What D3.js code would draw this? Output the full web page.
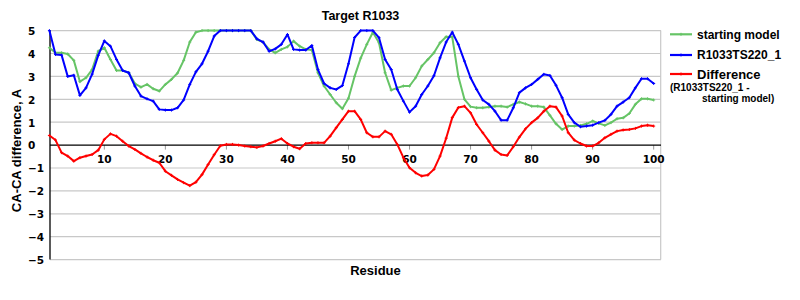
<!DOCTYPE html>
<html><head><meta charset="utf-8">
<script src="https://cdn.jsdelivr.net/npm/d3@7"></script>
<style>
html,body{margin:0;padding:0;background:#fff;}
svg{display:block;}
</style></head>
<body>
<svg id="chart" width="800" height="300"></svg>
<script>
const residues = d3.range(1, 101);
const startingModel = [4.25,4.03,4.03,3.98,3.70,2.77,2.94,3.30,4.10,4.25,
  3.74,3.26,3.26,3.16,2.69,2.53,2.65,2.46,2.36,2.65,
  2.87,3.15,3.70,4.50,4.93,5.0,5.0,5.0,5.0,5.0,
  5.0,5.0,5.0,5.0,4.61,4.50,4.18,4.03,4.18,4.29,
  4.54,4.32,4.18,4.15,3.16,2.58,2.21,1.85,1.59,2.05,
  3.00,3.80,4.40,4.93,4.47,3.16,2.40,2.50,2.58,2.58,
  2.94,3.45,3.74,4.03,4.47,4.73,4.72,3.00,2.00,1.68,
  1.63,1.63,1.66,1.70,1.70,1.66,1.78,1.88,1.80,1.70,
  1.70,1.66,1.30,0.93,0.68,0.83,0.83,0.86,0.93,1.05,
  0.95,0.86,0.98,1.15,1.19,1.38,1.78,2.02,2.02,1.97];
const targetModel = [5.0,3.96,3.93,3.00,3.05,2.17,2.50,3.10,3.92,4.55,
  4.32,3.74,3.26,3.16,2.58,2.14,2.02,1.92,1.56,1.53,
  1.53,1.63,1.97,2.65,3.20,3.55,4.10,4.76,5.0,5.0,
  5.0,5.0,5.0,5.0,4.64,4.50,4.10,4.20,4.40,4.83,
  4.18,4.15,4.15,4.35,3.30,2.69,2.50,2.43,2.60,3.55,
  4.70,5.0,5.0,5.0,4.69,3.74,3.30,2.43,1.92,1.44,
  1.70,2.21,2.58,3.03,3.81,4.50,4.93,4.40,3.67,2.94,
  2.43,1.97,1.78,1.48,1.09,1.09,1.63,2.29,2.50,2.65,
  2.87,3.09,3.04,2.61,2.07,1.34,0.98,0.80,0.83,0.87,
  0.98,1.08,1.34,1.70,1.88,2.07,2.50,2.90,2.90,2.69];
const difference = [0.42,0.22,-0.33,-0.48,-0.70,-0.55,-0.48,-0.41,-0.22,0.25,
  0.49,0.39,0.17,-0.04,-0.19,-0.36,-0.52,-0.66,-0.77,-1.14,
  -1.32,-1.50,-1.64,-1.77,-1.62,-1.29,-0.85,-0.42,-0.03,0.03,
  0.03,0.00,-0.04,-0.07,-0.10,-0.04,0.07,0.17,0.28,0.07,
  -0.07,-0.16,0.07,0.10,0.10,0.10,0.39,0.76,1.12,1.48,
  1.48,1.12,0.54,0.36,0.36,0.61,0.47,0.03,-0.55,-0.99,
  -1.21,-1.35,-1.31,-1.06,-0.48,0.30,1.20,1.64,1.70,1.41,
  0.90,0.54,0.17,-0.22,-0.41,-0.45,-0.07,0.35,0.71,0.98,
  1.19,1.48,1.70,1.66,1.27,0.54,0.22,0.07,-0.04,-0.04,
  0.10,0.32,0.47,0.61,0.66,0.68,0.73,0.83,0.87,0.83];
const xTicks = [10,20,30,40,50,60,70,80,90,100];
const yTicks = [5,4,3,2,1,0,-1,-2,-3,-4,-5];
const seriesNames = ["starting model", "R1033TS220_1", "Difference"];
const titleText = "Target R1033";
const xLabel = "Residue";
const yLabel = "CA-CA difference, A";

const colors = ["#66c466", "#0000ff", "#ff0000"];
const svg = d3.select("#chart");
const x = d3.scaleLinear().domain([1, 101.2]).range([49.4, 661]);
const y = d3.scaleLinear().domain([-5, 5]).range([259.6, 30.6]);

// gridlines
svg.append("g").selectAll("line").data(yTicks.filter(d => d !== 0)).join("line")
  .attr("x1", 50).attr("x2", 661)
  .attr("y1", d => y(d)).attr("y2", d => y(d))
  .attr("stroke", "#c8c8c8").attr("stroke-width", 1.2);
// right border
svg.append("line").attr("x1", 660.7).attr("x2", 660.7).attr("y1", y(5)).attr("y2", y(-5))
  .attr("stroke", "#c8c8c8").attr("stroke-width", 1.2);

// y tick labels
svg.append("g").selectAll("text").data(yTicks).join("text")
  .attr("x", 28).attr("y", d => y(d) + 4.3)
  .attr("font-family", "DejaVu Sans").attr("font-weight", "bold").attr("font-size", 10.5)
  .attr("fill", "#000")
  .text(d => d < 0 ? "\u2212" + Math.abs(d) : String(d));

// x tick marks + labels
svg.append("g").selectAll("line").data(xTicks).join("line")
  .attr("x1", d => x(d)).attr("x2", d => x(d))
  .attr("y1", y(0)).attr("y2", y(0) + 4.5)
  .attr("stroke", "#999").attr("stroke-width", 1);
svg.append("g").selectAll("text").data(xTicks).join("text")
  .attr("x", d => x(d)).attr("y", 163)
  .attr("text-anchor", "middle")
  .attr("font-family", "DejaVu Sans").attr("font-weight", "bold").attr("font-size", 10.5)
  .attr("fill", "#000")
  .text(d => d);

// axes lines
svg.append("line").attr("x1", 50).attr("x2", 50).attr("y1", y(5)).attr("y2", y(-5))
  .attr("stroke", "#000").attr("stroke-width", 1.3);
svg.append("line").attr("x1", 50).attr("x2", 661).attr("y1", y(0)).attr("y2", y(0))
  .attr("stroke", "#000").attr("stroke-width", 1.3);

// series
const allSeries = [startingModel, targetModel, difference];
const line = d3.line().x((d, i) => x(residues[i])).y(d => y(d));
allSeries.forEach((vals, k) => {
  const g = svg.append("g");
  g.append("path").datum(vals).attr("d", line)
    .attr("fill", "none").attr("stroke", colors[k]).attr("stroke-width", 2)
    .attr("stroke-linejoin", "round");
  g.selectAll("path.m").data(vals).join("path").attr("class", "m")
    .attr("d", (d, i) => {
      const px = x(residues[i]), py = y(d);
      return `M${px-1.5},${py}H${px+1.5}M${px},${py-1.5}V${py+1.5}`;
    })
    .attr("stroke", colors[k]).attr("stroke-width", 1);
});

// title
svg.append("text").attr("x", 360.5).attr("y", 20).attr("text-anchor", "middle")
  .attr("font-family", "Liberation Sans").attr("font-weight", "bold").attr("font-size", 12.5)
  .text(titleText);
// x label
svg.append("text").attr("x", 375.5).attr("y", 275).attr("text-anchor", "middle")
  .attr("font-family", "Liberation Sans").attr("font-weight", "bold").attr("font-size", 13)
  .text(xLabel);
// y label
svg.append("text").attr("transform", "translate(20.5,150.5) rotate(-90)").attr("text-anchor", "middle")
  .attr("font-family", "Liberation Sans").attr("font-weight", "bold").attr("font-size", 13)
  .text(yLabel);

// legend
const legendY = [34.3, 55, 74];
const legend = svg.append("g");
seriesNames.forEach((name, k) => {
  legend.append("line").attr("x1", 670).attr("x2", 692)
    .attr("y1", legendY[k]).attr("y2", legendY[k])
    .attr("stroke", colors[k]).attr("stroke-width", 2.2);
  legend.append("path")
    .attr("d", `M679.5,${legendY[k]}H682.5M681,${legendY[k]-1.5}V${legendY[k]+1.5}`)
    .attr("stroke", colors[k]).attr("stroke-width", 1);
  legend.append("text").attr("x", 697).attr("y", legendY[k] + (k === 2 ? 4.5 : 4.2))
    .attr("font-family", "Liberation Sans").attr("font-weight", "bold")
    .attr("font-size", k === 2 ? 13 : 12)
    .text(name);
});
legend.append("text").attr("x", 670).attr("y", 90.5)
  .attr("font-family", "Liberation Sans").attr("font-weight", "bold").attr("font-size", 10)
  .text("(R1033TS220_1 -");
legend.append("text").attr("x", 702).attr("y", 101.5)
  .attr("font-family", "Liberation Sans").attr("font-weight", "bold").attr("font-size", 10)
  .text("starting model)");
</script>
</body></html>
